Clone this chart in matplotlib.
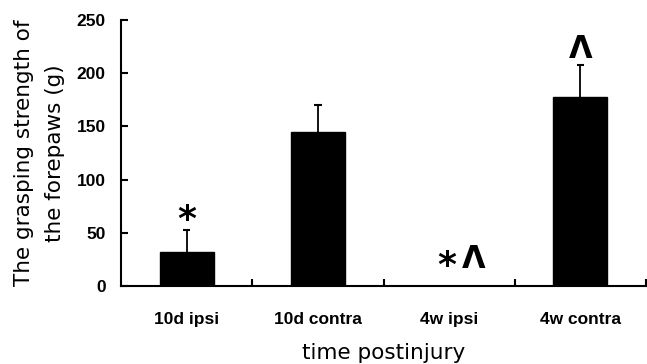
import matplotlib
matplotlib.use("Agg")
import matplotlib.pyplot as plt
import numpy as np

groups = ["10d ipsi", "10d contra", "4w ipsi", "4w contra"]
means = [32, 145, 0, 178]
errors = [21, 25, 0, 30]
marks = ["*", "", "*\u039b", "\u039b"]

fig = plt.figure(figsize=(6.47, 3.64), dpi=100)
ax = fig.add_axes([121 / 647, 1 - 286 / 364, 525 / 647, 266 / 364])

x = np.arange(len(groups))
tops = np.array(means) + np.array(errors)
ax.bar(x, means, width=0.41, color="black", edgecolor="black", zorder=2)
# upper error bars only
has_err = np.array(errors) > 0
ax.vlines(x[has_err], np.array(means)[has_err], tops[has_err],
          color="black", linewidth=1.3, zorder=1)
ax.hlines(tops[has_err], x[has_err] - 0.028, x[has_err] + 0.028,
          color="black", linewidth=1.5, zorder=1)

ax.set_xlim(-0.5, len(groups) - 0.5)
ax.set_ylim(0, 250)
ax.set_yticks(np.arange(0, 251, 50))
ax.set_xticks(x)
ax.set_xticklabels(groups)
ax.set_xticks(np.arange(len(groups)) + 0.5, minor=True)

for s in ["top", "right"]:
    ax.spines[s].set_visible(False)
for s in ["left", "bottom"]:
    ax.spines[s].set_linewidth(1.5)

ax.tick_params(axis="y", direction="in", length=5, width=1.5, pad=11)
ax.tick_params(axis="x", which="major", length=0, pad=19)
ax.tick_params(axis="x", which="minor", direction="in", length=5, width=1.5)
for lab in ax.get_xticklabels() + ax.get_yticklabels():
    lab.set_fontfamily("Liberation Sans")
    lab.set_fontweight("bold")
    lab.set_fontsize(12.5)

ax.set_ylabel("The grasping strength of\nthe forepaws (g)", fontsize=15.5,
              family="DejaVu Sans", labelpad=8, linespacing=1.7)
ax.set_xlabel("time postinjury", fontsize=15.5, family="DejaVu Sans", labelpad=11)

# significance marks: glyph bottoms sit a few points above the error bar
char_w = {"*": 12, "\u039b": 17}
gap = 5
for i, m in enumerate(marks):
    if not m:
        continue
    total = sum(char_w[c] for c in m) + gap * (len(m) - 1)
    start = -total / 2 + (9.5 if len(m) > 1 else 0)
    yoff = 13 if errors[i] == 0 and means[i] == 0 else 5
    for c in m:
        cx = start + char_w[c] / 2
        dy = yoff - 5.5 if c == "*" else yoff
        ax.annotate(c, (x[i], tops[i]), xytext=(cx, dy), textcoords="offset points",
                    ha="center", va="baseline", fontsize=26 if c == "*" else 22,
                    fontweight="bold", family="DejaVu Sans")
        start += char_w[c] + gap

fig.savefig("out.png", dpi=100)
